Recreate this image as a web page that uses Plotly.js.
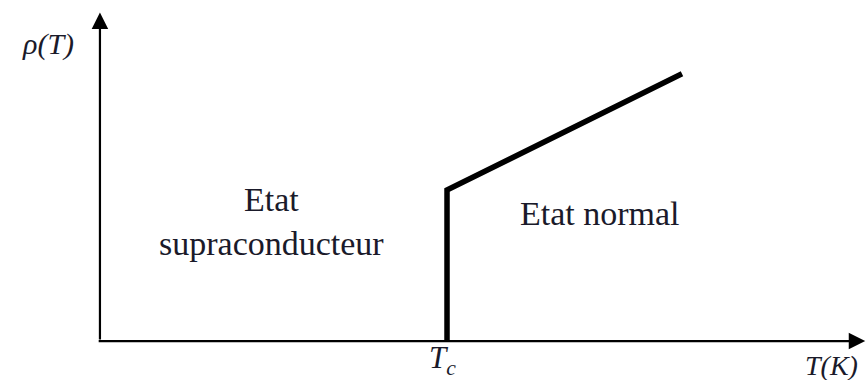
<!DOCTYPE html>
<html>
<head>
<meta charset="utf-8">
<script src="https://cdn.plot.ly/plotly-3.0.1.min.js"></script>
<style>html,body{margin:0;padding:0;background:#fff;}#chart{width:868px;height:380px;}</style>
</head>
<body>
<div id="chart"></div>
<script>
// Resistivity vs temperature (arbitrary units, Tc = 1, rho(Tc+) = 1)
const temperature = [1.0, 1.0, 1.677];
const resistivity = [0.0, 1.0, 1.77];
const tcValue = 1.0;
const regionLabels = ["Etat<br>supraconducteur", "Etat normal"];
const axisLabels = ["<i>ρ(T)</i>", "<i>T(K)</i>", "<i>T<sub>c</sub></i>"];

const serif = '"Liberation Serif", "Times New Roman", serif';
const xr = [-0.288, 2.213];
const yr = [-0.258, 2.258];
const txt = '#1a1a2a';

const data = [{
  x: temperature, y: resistivity, mode: 'lines', type: 'scatter',
  line: {color: '#000', width: 5.5}, hoverinfo: 'skip', showlegend: false
}];

function label(x, y, text, size, xref) {
  return {x: x, y: y, xref: xref || 'paper', yref: 'paper', text: text, showarrow: false,
    xanchor: 'center', yanchor: 'middle', align: 'center',
    font: {family: serif, size: size, color: txt}};
}

const annotations = [
  // y axis with arrow
  {x: 0, y: 2.175, ax: 0, ay: 0, xref: 'x', yref: 'y', axref: 'x', ayref: 'y',
   text: '', showarrow: true, arrowhead: 2, arrowsize: 1.5, arrowwidth: 2.2, arrowcolor: '#000'},
  // x axis with arrow
  {x: 2.205, y: 0, ax: -0.008, ay: 0, xref: 'x', yref: 'y', axref: 'x', ayref: 'y',
   text: '', showarrow: true, arrowhead: 2, arrowsize: 1.5, arrowwidth: 2.2, arrowcolor: '#000'},
  label(48/868, 1 - 44/380, axisLabels[0], 30),
  label(831/868, 1 - 365/380, axisLabels[1], 28),
  label(tcValue - 0.012, 1 - 360/380, axisLabels[2], 31, 'x'),
  label(271/868, 1 - 221/380, regionLabels[0], 34),
  label(600/868, 1 - 213/380, regionLabels[1], 34)
];

const layout = {
  width: 868, height: 380,
  margin: {l: 0, r: 0, t: 0, b: 0},
  paper_bgcolor: '#fff', plot_bgcolor: '#fff',
  xaxis: {range: xr, visible: false, fixedrange: true},
  yaxis: {range: yr, visible: false, fixedrange: true},
  annotations: annotations,
  showlegend: false
};

Plotly.newPlot('chart', data, layout, {staticPlot: true, displayModeBar: false});
</script>
</body>
</html>
